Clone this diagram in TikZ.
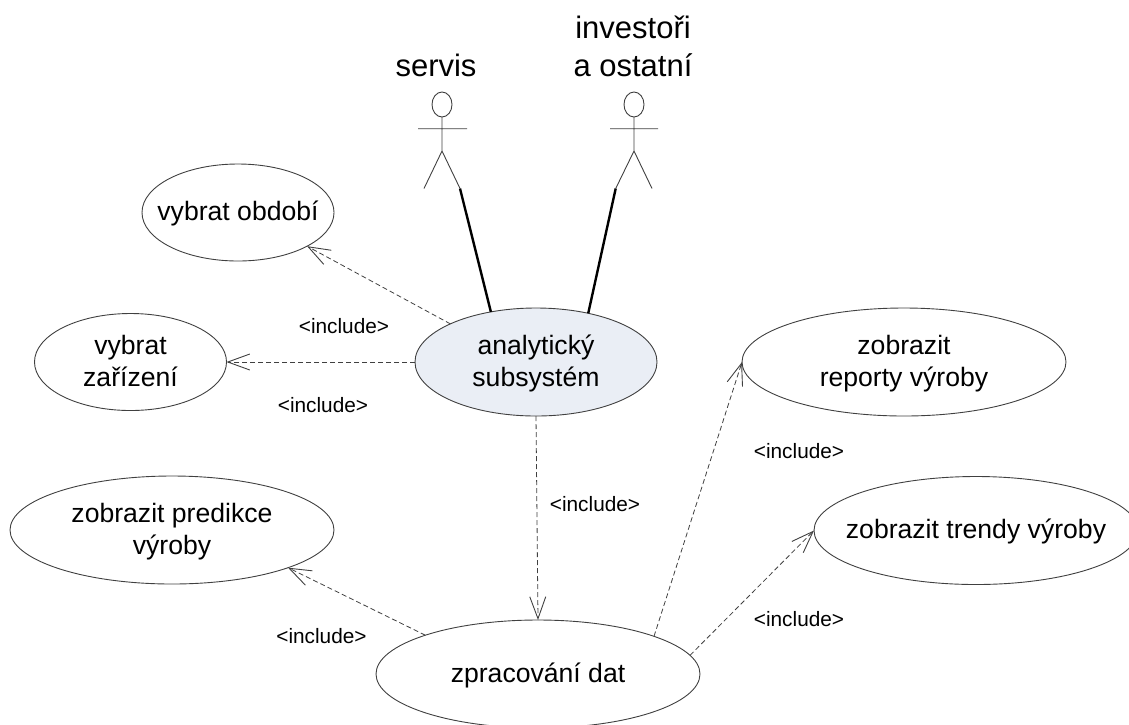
\documentclass[tikz,border=0pt]{standalone}
\usepackage{fontspec}
\setmainfont{Liberation Sans}
\usetikzlibrary{shapes.geometric,arrows.meta}
\definecolor{inkline}{HTML}{404040}
\definecolor{mainfill}{HTML}{EAEEF5}
\newcommand{\st}{\rule[-5pt]{0pt}{27pt}}
\tikzset{
  x=1pt,y=-1pt,
  case/.style={draw=inkline,line width=0.9pt,ellipse,inner sep=0pt,outer sep=0pt},
  casetext/.style={inner sep=0pt,outer sep=0pt,align=center,
    font=\fontsize{26.6pt}{32pt}\selectfont,text=black},
  bigcase/.style={case,minimum width=324pt,minimum height=108pt},
  smallcase/.style={case,minimum width=192pt,minimum height=97pt},
  head/.style={draw=inkline,line width=0.9pt,ellipse,inner sep=0pt,outer sep=0pt,minimum width=20pt,minimum height=25pt},
  limb/.style={draw=inkline,line width=0.9pt},
  assoc/.style={draw=black,line width=2.4pt},
  incl/.style={draw=inkline,line width=0.8pt,dash pattern=on 5pt off 3pt,
    -{Straight Barb[length=22pt,width=16pt,line width=0.9pt]}},
  incltext/.style={anchor=base,inner sep=0pt,font=\fontsize{20.8pt}{24pt}\selectfont},
  actortext/.style={anchor=base,inner sep=0pt,align=center,font=\fontsize{31pt}{38pt}\selectfont},
}
\begin{document}
\begin{tikzpicture}
\useasboundingbox (0,0) rectangle (1129,724);
\clip (0,0) rectangle (1129,724);
% use cases
\node[smallcase,label={[casetext]center:{\st vybrat období}}] (obdobi) at (238,212.5) {};
\node[smallcase,label={[casetext]center:{\st vybrat\\\st zařízení}}] (zarizeni) at (130.5,362) {};
\node[case,fill=mainfill,minimum width=242pt,minimum height=108pt,label={[casetext]center:{\st analytický\\\st subsystém}}] (analyt) at (536,362) {};
\node[bigcase,label={[casetext]center:{\st zobrazit\\\st reporty výroby}}] (reporty) at (904,362) {};
\node[bigcase,label={[casetext]center:{\st zobrazit trendy výroby}}] (trendy) at (976,530.5) {};
\node[bigcase,label={[casetext]center:{\st zobrazit predikce\\\st výroby}}] (predikce) at (172,530) {};
\node[bigcase,label={[casetext]center:{\st zpracování dat}}] (zprac) at (538,674) {};
% actors
\node[head] (h1) at (442,104.5) {};
\coordinate (a1l) at (418,128.7);
\coordinate (a1r) at (467,128.7);
\coordinate (c1) at (442,151);
\coordinate (l1l) at (424,188.5);
\coordinate (l1r) at (460,188.5);
\draw[limb] (h1.south) -- (c1) (a1l) -- (a1r) (l1l) -- (c1) -- (l1r);
\node[head] (h2) at (634,104.5) {};
\coordinate (a2l) at (610,128.7);
\coordinate (a2r) at (658,128.7);
\coordinate (c2) at (634,151);
\coordinate (l2l) at (615.7,188.5);
\coordinate (l2r) at (652,188.5);
\draw[limb] (h2.south) -- (c2) (a2l) -- (a2r) (l2l) -- (c2) -- (l2r);
\node[actortext] (servis) at (436,76) {servis};
\node[actortext] (invest1) at (633,38) {investoři};
\node[actortext] (invest2) at (633,76) {a ostatní};
% associations
\draw[assoc] (l1r) -- (analyt.132.6);
\draw[assoc] (l2l) -- (analyt.43.8);
% includes
\draw[incl] (analyt.156.2) -- (obdobi.-26);
\draw[incl] (analyt.west) -- (zarizeni.east);
\draw[incl] (analyt.south) -- (zprac.north);
\draw[incl] (zprac.161.3) -- (predikce.-18.4);
\draw[incl] (zprac.18.7) -- (reporty.west);
\draw[incl] (zprac.7.9) -- (trendy.west);
% labels
\node[incltext] (i1) at (344,333) {<include>};
\node[incltext] (i2) at (323,412) {<include>};
\node[incltext] (i3) at (595,511) {<include>};
\node[incltext] (i4) at (321.5,643) {<include>};
\node[incltext] (i5) at (799,458) {<include>};
\node[incltext] (i6) at (799,626) {<include>};
\end{tikzpicture}
\end{document}
